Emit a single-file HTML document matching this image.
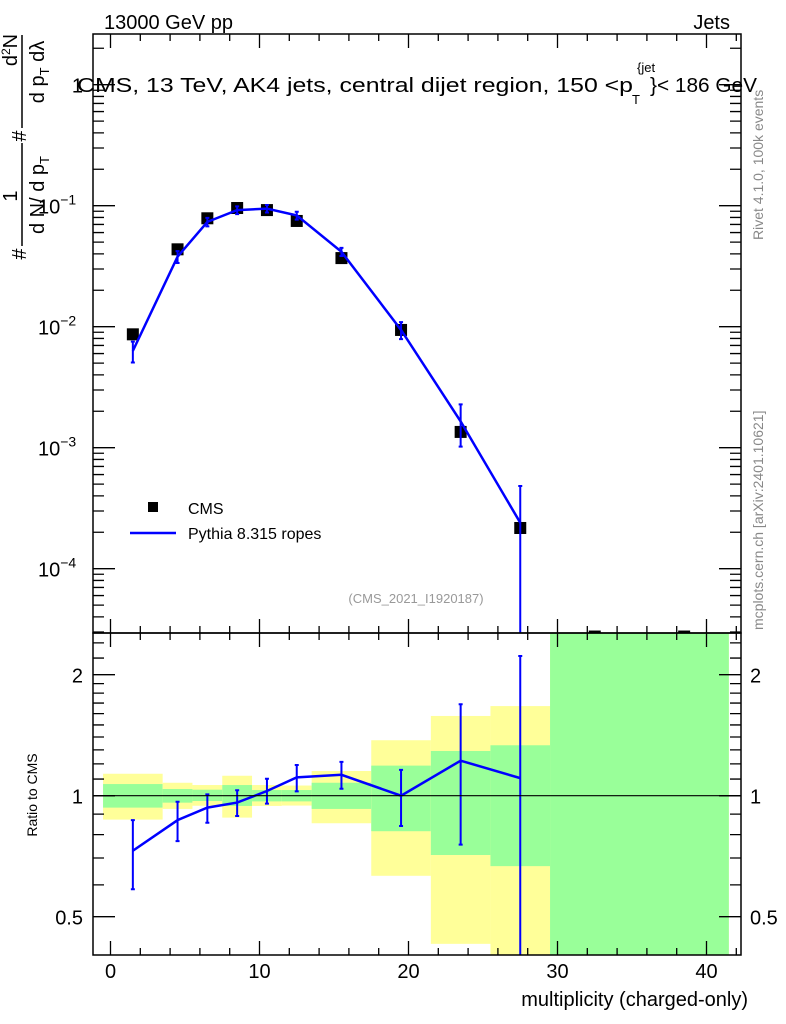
<!DOCTYPE html>
<html><head><meta charset="utf-8"><style>
html,body{margin:0;padding:0;background:#fff;}
svg{display:block;font-family:"Liberation Sans","DejaVu Sans",sans-serif;}
</style></head><body>
<svg id="chart" width="786" height="1024" viewBox="0 0 786 1024" xmlns="http://www.w3.org/2000/svg">
<defs>
<clipPath id="mainClip"><rect x="93" y="34" width="648" height="599"/></clipPath>
<clipPath id="ratioClip"><rect x="93" y="633" width="648" height="322"/></clipPath>
</defs>
<g id="bands" clip-path="url(#ratioClip)"></g>
<g id="ticks"></g>
<g id="marks"></g>
<line x1="93" x2="741" y1="795.7" y2="795.7" stroke="#000" stroke-width="1.2"/>
<rect x="93" y="34" width="648" height="599" fill="none" stroke="#000" stroke-width="1.5"/>
<rect x="93" y="633" width="648" height="322" fill="none" stroke="#000" stroke-width="1.5"/>
<g id="labels"></g>
<text x="104" y="29" font-size="20">13000 GeV pp</text>
<text x="730" y="29" font-size="20" text-anchor="end">Jets</text>
<g font-size="20">
<text x="77" y="92" textLength="556" lengthAdjust="spacingAndGlyphs">CMS, 13 TeV, AK4 jets, central dijet region, 150 &lt;p</text>
<text x="637" y="72" font-size="13">{jet</text>
<text x="632" y="104" font-size="13">T</text>
<text x="650" y="92" textLength="107" lengthAdjust="spacingAndGlyphs">}&lt; 186 GeV</text>
</g>
<g font-size="20">
<line x1="22" x2="22" y1="35" y2="128" stroke="#000" stroke-width="1.5"/>
<line x1="22" x2="22" y1="143" y2="246" stroke="#000" stroke-width="1.5"/>
<text transform="translate(26,254) rotate(-90)" text-anchor="middle">#</text>
<text transform="translate(17,196) rotate(-90)" text-anchor="middle">1</text>
<text transform="translate(44,195) rotate(-90)" text-anchor="middle">d N/ d p<tspan font-size="13" dy="5">T</tspan></text>
<text transform="translate(26,136) rotate(-90)" text-anchor="middle">#</text>
<text transform="translate(17,50) rotate(-90)" text-anchor="middle">d<tspan font-size="12" dy="-7">2</tspan><tspan dy="7">N</tspan></text>
<text transform="translate(44,72) rotate(-90)" text-anchor="middle">d p<tspan font-size="13" dy="5">T</tspan><tspan dy="-5"> dλ</tspan></text>
</g>
<text transform="translate(37,795) rotate(-90)" text-anchor="middle" font-size="14">Ratio to CMS</text>
<text x="748" y="1006" font-size="20" text-anchor="end">multiplicity (charged-only)</text>
<text transform="translate(763,240) rotate(-90)" font-size="14" fill="#888">Rivet 4.1.0,  100k events</text>
<text transform="translate(763,630) rotate(-90)" font-size="14" fill="#888">mcplots.cern.ch [arXiv:2401.10621]</text>
<text x="416" y="603" font-size="13" fill="#999" text-anchor="middle">(CMS_2021_I1920187)</text>
<g>
<rect x="148" y="502" width="10" height="10" fill="#000"/>
<text x="188" y="514" font-size="16">CMS</text>
<line x1="130" x2="176" y1="533" y2="533" stroke="#00f" stroke-width="2.5"/>
<text x="188" y="539" font-size="16">Pythia 8.315 ropes</text>
</g>
<script>
// data
const xCenters = [1.5, 4.5, 6.5, 8.5, 10.5, 12.5, 15.5, 19.5, 23.5, 27.5];
const cmsVals = [0.00865, 0.0436, 0.0787, 0.0957, 0.092, 0.0748, 0.0369, 0.0094, 0.00135, 0.000217];
const cmsExtraX = [32.5, 38.5];
const cmsExtraVals = [2.75e-5, 2.75e-5];
const mcVals = [0.00631, 0.0379, 0.0735, 0.092, 0.0945, 0.0831, 0.0416, 0.0094, 0.00165, 0.00024];
const mcLo = [0.00506, 0.0336, 0.0674, 0.0852, 0.0879, 0.0767, 0.0384, 0.0079, 0.00102, 1e-9];
const mcHi = [0.00752, 0.0421, 0.0793, 0.0987, 0.1014, 0.0892, 0.0448, 0.0109, 0.00228, 0.000483];
const binEdges = [-0.5, 3.5, 5.5, 7.5, 9.5, 11.5, 13.5, 17.5, 21.5, 25.5, 29.5, 41.5];
const totLo = [0.872, 0.927, 0.944, 0.882, 0.943, 0.945, 0.854, 0.632, 0.428, 0.3, 0.3];
const totHi = [1.134, 1.077, 1.063, 1.121, 1.063, 1.06, 1.152, 1.374, 1.579, 1.671, 3];
const statLo = [0.934, 0.961, 0.970, 0.943, 0.968, 0.968, 0.927, 0.816, 0.712, 0.668, 0.3];
const statHi = [1.069, 1.039, 1.035, 1.063, 1.033, 1.033, 1.077, 1.188, 1.292, 1.335, 3];
const xTicks = [0, 10, 20, 30, 40];
const yExponents = [-4, -3, -2, -1];
const ratioTickLabels = [0.5, 1, 2];

const NS = "http://www.w3.org/2000/svg";
const X = v => 110.5 + 14.9 * v;
const Y = v => 84.7 - 121 * Math.log10(v);
const R = v => 795.7 - 121 * Math.log2(v);
function mk(parent, tag, attrs) {
  const e = document.createElementNS(NS, tag);
  for (const k in attrs) e.setAttribute(k, attrs[k]);
  parent.appendChild(e);
  return e;
}
const bands = document.getElementById('bands');
const ticks = document.getElementById('ticks');
const marks = document.getElementById('marks');
const labels = document.getElementById('labels');

for (let i = 0; i < totLo.length; i++) {
  const x0 = X(binEdges[i]), x1 = X(binEdges[i + 1]);
  const t = mk(bands, 'rect', {x: x0, y: R(totHi[i]), width: x1 - x0, height: R(totLo[i]) - R(totHi[i]), fill: '#ffff99'});
  
  
  const s = mk(bands, 'rect', {x: x0, y: R(statHi[i]), width: x1 - x0, height: R(statLo[i]) - R(statHi[i]), fill: '#99ff99'});
  
  
}

for (let v = -1; v <= 42; v++) {
  if (v % 2 !== 0 && v % 10 !== 0) continue;
  const major = v % 10 === 0;
  const L = major ? 14 : 7;
  const x = X(v);
  const d = `M${x},633v${-L}M${x},34v${L}M${x},955v${-L}M${x},633v${L}`;
  mk(ticks, 'path', {d: d, stroke: '#000', 'stroke-width': 1.3});
}
xTicks.forEach(v => {
  const t = mk(labels, 'text', {x: X(v), y: 978, 'font-size': 20, 'text-anchor': 'middle'});
  t.textContent = v;
  
  
});
for (let e = -5; e <= 0; e++) {
  for (let m = 1; m <= 9; m++) {
    const v = m * Math.pow(10, e);
    const y = Y(v);
    if (y < 34 || y > 633) continue;
    const L = m === 1 ? 22 : 11;
    mk(ticks, 'path', {d: `M93,${y}h${L}M741,${y}h${-L}`, stroke: '#000', 'stroke-width': 1.3});
  }
}
yExponents.forEach(e => {
  const t = mk(labels, 'text', {x: 38, y: Y(Math.pow(10, e)) + 8, 'font-size': 20});
  
  
  const a = mk(t, 'tspan', {});
  a.textContent = '10';
  const b = mk(t, 'tspan', {'font-size': 14, dy: -9});
  b.textContent = '\u2212' + (-e);
});
{
  const t = mk(labels, 'text', {x: 83, y: Y(1) + 8, 'font-size': 20, 'text-anchor': 'end'});
  t.textContent = '1';
  
  
}
const rt = [];
for (let v = 0.4; v < 1.0; v += 0.1) rt.push(+v.toFixed(2));
for (let v = 1.0; v <= 2.01; v += 0.1) rt.push(+v.toFixed(2));
rt.push(2.2, 2.4);
rt.forEach(v => {
  const y = R(v);
  if (y < 633 || y > 955) return;
  const major = [0.5, 1, 2].includes(v);
  const L = major ? 22 : 11;
  mk(ticks, 'path', {d: `M93,${y}h${L}M741,${y}h${-L}`, stroke: '#000', 'stroke-width': 1.3});
});
ratioTickLabels.forEach(v => {
  [[83, 'end'], [750, 'start']].forEach(([x, a]) => {
    const t = mk(labels, 'text', {x: x, y: R(v) + 8, 'font-size': 20, 'text-anchor': a});
    t.textContent = v;
    
    
  });
});

const mainG = mk(marks, 'g', {'clip-path': 'url(#mainClip)'});
xCenters.forEach((xv, i) => {
  const r = mk(mainG, 'rect', {x: X(xv) - 6, y: Y(cmsVals[i]) - 6, width: 12, height: 12, fill: '#000'});
  
  
});
cmsExtraX.forEach((xv, i) => {
  const r = mk(mainG, 'rect', {x: X(xv) - 6, y: Y(cmsExtraVals[i]) - 6, width: 12, height: 12, fill: '#000'});
  
  
});
const mcPath = mk(mainG, 'polyline', {points: xCenters.map((xv, i) => X(xv) + ',' + Y(mcVals[i])).join(' '), fill: 'none', stroke: '#00f', 'stroke-width': 2.5});


xCenters.forEach((xv, i) => {
  const x = X(xv), y0 = Math.min(Y(mcLo[i]), 640), y1 = Y(mcHi[i]);
  const e = mk(mainG, 'path', {d: `M${x},${y0}V${y1}M${x - 2},${y0}h4M${x - 2},${y1}h4`, stroke: '#00f', 'stroke-width': 2});
  
  
});

const ratG = mk(marks, 'g', {'clip-path': 'url(#ratioClip)'});
const ratPath = mk(ratG, 'polyline', {points: xCenters.map((xv, i) => X(xv) + ',' + R(mcVals[i] / cmsVals[i])).join(' '), fill: 'none', stroke: '#00f', 'stroke-width': 2.5});


xCenters.forEach((xv, i) => {
  const x = X(xv);
  const y0 = Math.min(R(mcLo[i] / cmsVals[i]), 970), y1 = R(mcHi[i] / cmsVals[i]);
  const e = mk(ratG, 'path', {d: `M${x},${y0}V${y1}M${x - 2},${y0}h4M${x - 2},${y1}h4`, stroke: '#00f', 'stroke-width': 2});
  
  
});
</script>
</svg>
</body></html>
